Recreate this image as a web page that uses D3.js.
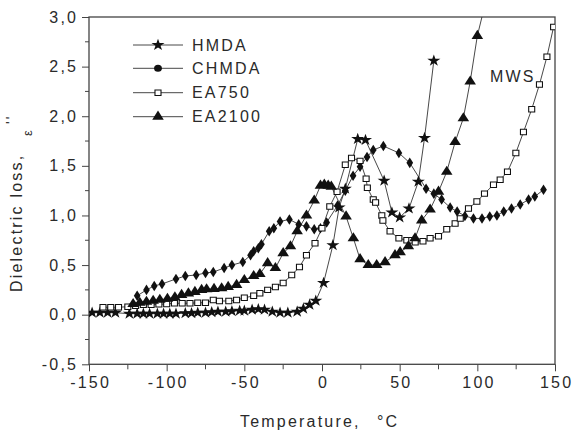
<!DOCTYPE html>
<html><head><meta charset="utf-8">
<script src="https://cdn.jsdelivr.net/npm/d3@7"></script>
<style>body{margin:0;background:#fff} svg{display:block}</style>
</head><body><svg id="c" width="573" height="439"></svg>
<script>
const xTicks=[-150,-100,-50,0,50,100,150];
const yTicks=[-0.5,0,0.5,1,1.5,2,2.5,3];
const legendNames=["HMDA","CHMDA","EA750","EA2100"];

const hmdaT=[-148,-143,-138,-133,-124,-119,-115,-111,-106,-102,-98,-94,-88,-84,-80,-75,-71,-67,-62,-58,-53,-50,-45,-41,-37,-32,-27,-22,-16,-12,-8,-4,1,7,11,15,23,28,40,45,50,56,62,66,72];
const hmdaV=[0.02,0.02,0.02,0.02,0.01,0.01,0.01,0.01,0.01,0.01,0.01,0.01,0.015,0.015,0.02,0.02,0.025,0.03,0.03,0.035,0.04,0.04,0.05,0.055,0.05,0.03,0.02,0.02,0.03,0.06,0.10,0.14,0.32,0.70,1.08,1.27,1.77,1.76,1.35,1.03,0.98,1.07,1.34,1.78,2.56];

const chmdaT=[-119,-113,-108,-103,-94,-88,-81,-75,-70,-63,-58,-51,-46,-44,-41,-39,-34,-31,-27,-21,-15,-10,-5,-1,3,10,15,20,24.5,29,33,39.5,49.5,56.5,67,72,77,82.5,87,92,97.5,103,108,112.6,117,122,127.6,133,137,142.6];
const chmdaV=[0.19,0.25,0.29,0.31,0.36,0.39,0.40,0.42,0.43,0.47,0.50,0.53,0.60,0.64,0.67,0.71,0.84,0.87,0.94,0.96,0.91,0.89,0.86,0.87,0.93,1.10,1.25,1.40,1.49,1.59,1.66,1.70,1.63,1.53,1.27,1.22,1.16,1.08,1.04,0.995,0.97,0.97,0.99,1.0,1.04,1.07,1.11,1.16,1.19,1.26];

const ea750T=[-141,-136,-131,-125,-120,-115,-110,-105,-100,-95,-90,-85,-80,-75,-70,-66,-60,-55,-50,-44,-40,-35,-30,-25,-19.5,-14.5,-10,-4.5,0,5,9.7,15,19,24.5,28.4,29.2,33,34.5,38.5,39.2,43.8,49.5,54.6,57.8,60,65,69.6,75,80.3,85.7,89,94.3,99.7,104.6,110.4,114.7,119.4,124.8,129.7,135,140,144.8,149.1];
const ea750V=[0.075,0.075,0.075,0.08,0.09,0.10,0.10,0.105,0.108,0.115,0.115,0.115,0.12,0.12,0.148,0.138,0.138,0.148,0.17,0.19,0.215,0.25,0.28,0.32,0.40,0.48,0.60,0.72,0.87,1.09,1.24,1.51,1.58,1.55,1.37,1.28,1.16,1.13,1.0,0.95,0.84,0.77,0.75,0.75,0.73,0.74,0.77,0.79,0.86,0.92,0.97,1.07,1.14,1.22,1.31,1.36,1.44,1.63,1.84,2.07,2.32,2.60,2.90];

const ea2100T=[-121.6,-117.3,-113,-108.7,-104.4,-99.5,-94.7,-90.4,-86,-81.8,-77.5,-74.3,-69.5,-64.6,-60.4,-55,-50,-44,-40,-35,-30,-25,-20.3,-16,-10,-5,-1,1.5,4,6,15.5,20.2,24.5,29.8,35.2,40.6,47,50.3,55.6,59.9,64.2,69.6,75,80.3,85.7,91,95.4,100,105];
const ea2100V=[0.108,0.12,0.13,0.14,0.15,0.16,0.175,0.20,0.215,0.23,0.25,0.256,0.26,0.266,0.28,0.30,0.35,0.39,0.41,0.52,0.47,0.62,0.69,0.84,1.0,1.15,1.30,1.31,1.30,1.29,0.99,0.77,0.56,0.50,0.50,0.53,0.60,0.63,0.69,0.77,0.95,1.06,1.24,1.44,1.74,1.98,2.35,2.81,3.13];

const FONT="'Liberation Sans', Arial, sans-serif";
const FS=16, LS=2.2;
const INK="#2a2a2a";
const svg=d3.select("#c");
const L=89,R=555,T=17,B=364.3;
const x=d3.scaleLinear().domain([-150,150]).range([L,R]);
const y=d3.scaleLinear().domain([-0.5,3]).range([B,T]);

function styleText(sel){
  return sel.attr("font-family",FONT).attr("font-size",FS).attr("letter-spacing",LS).attr("fill",INK);
}

const xMinor=d3.range(-125,150,50);
const yMinor=d3.range(-0.25,3,0.5);
const gx=svg.append("g").attr("transform",`translate(0,${B})`);
gx.call(d3.axisBottom(x).tickValues(xTicks).tickSize(7).tickPadding(5).tickFormat(d=>String(d)));
xMinor.forEach(v=>gx.append("line").attr("x1",x(v)).attr("x2",x(v)).attr("y1",0).attr("y2",5).attr("stroke","#444"));
const gy=svg.append("g").attr("transform",`translate(${L},0)`);
gy.call(d3.axisLeft(y).tickValues(yTicks).tickSize(7).tickPadding(6).tickFormat(d=>d.toFixed(1).replace(".",",")));
yMinor.forEach(v=>gy.append("line").attr("y1",y(v)).attr("y2",y(v)).attr("x1",0).attr("x2",-4).attr("stroke","#444"));
[gx,gy].forEach(g=>{
  g.select(".domain").remove();
  g.selectAll(".tick line").attr("stroke","#444");
  styleText(g.selectAll(".tick text"));
});
gx.selectAll(".tick text").attr("dx",LS/2);
gy.selectAll(".tick text").attr("dx",LS);

svg.append("rect").attr("x",L).attr("y",T).attr("width",R-L).attr("height",B-T)
  .attr("fill","none").attr("stroke","#444").attr("stroke-width",1.3);

svg.append("clipPath").attr("id","clip").append("rect").attr("x",L).attr("y",T).attr("width",R-L).attr("height",B-T);
const plot=svg.append("g").attr("clip-path","url(#clip)");

const symStar=d3.symbol().type(d3.symbolStar).size(44);
const symDia=d3.symbol().type(d3.symbolDiamond).size(32);
const symSq=d3.symbol().type(d3.symbolSquare).size(30);
const symTri=d3.symbol().type(d3.symbolTriangle).size(48);
const symCirc=d3.symbol().type(d3.symbolCircle).size(40);

const series=[
  {T:hmdaT,V:hmdaV,sym:symStar,fill:"#111",stroke:"none",leg:symStar},
  {T:chmdaT,V:chmdaV,sym:symDia,fill:"#111",stroke:"none",leg:symCirc},
  {T:ea750T,V:ea750V,sym:symSq,fill:"#fff",stroke:"#111",leg:symSq},
  {T:ea2100T,V:ea2100V,sym:symTri,fill:"#111",stroke:"none",leg:symTri}
];
const line=d3.line().x(d=>x(d[0])).y(d=>y(d[1]));
series.forEach(s=>{
  const pts=s.T.map((t,i)=>[t,s.V[i]]);
  plot.append("path").datum(pts).attr("d",line).attr("fill","none").attr("stroke","#333").attr("stroke-width",0.9);
});
series.forEach(s=>{
  const pts=s.T.map((t,i)=>[t,s.V[i]]);
  plot.selectAll(null).data(pts).enter().append("path")
    .attr("d",s.sym()).attr("transform",d=>`translate(${x(d[0])},${y(d[1])}) scale(1.1,1)`)
    .attr("fill",s.fill).attr("stroke",s.stroke).attr("stroke-width",1);
});

const legY=[45,68.3,92.7,116.7];
series.forEach((s,i)=>{
  const g=svg.append("g").attr("transform",`translate(0,${legY[i]})`);
  g.append("line").attr("x1",133).attr("x2",183).attr("stroke","#333").attr("stroke-width",0.9);
  g.append("path").attr("d",s.leg()).attr("transform",`translate(158,0) scale(1.1,1)`)
    .attr("fill",s.fill).attr("stroke",s.stroke);
  styleText(g.append("text").attr("x",192).attr("dy","0.36em")).text(legendNames[i]);
});

styleText(svg.append("text").attr("x",490).attr("y",82)).text("MWS");

styleText(svg.append("text").attr("x",240).attr("y",427)).text("Temperature,");
styleText(svg.append("text").attr("x",377).attr("y",427)).text("°C");

styleText(svg.append("text").attr("transform","translate(22,292) rotate(-90)")).text("Dielectric loss,");
styleText(svg.append("text").attr("transform","translate(32,136) rotate(-90)")).attr("font-size",13).text("ε");
styleText(svg.append("text").attr("transform","translate(16,124) rotate(-90)")).attr("font-size",14).text("''");
</script></body></html>
